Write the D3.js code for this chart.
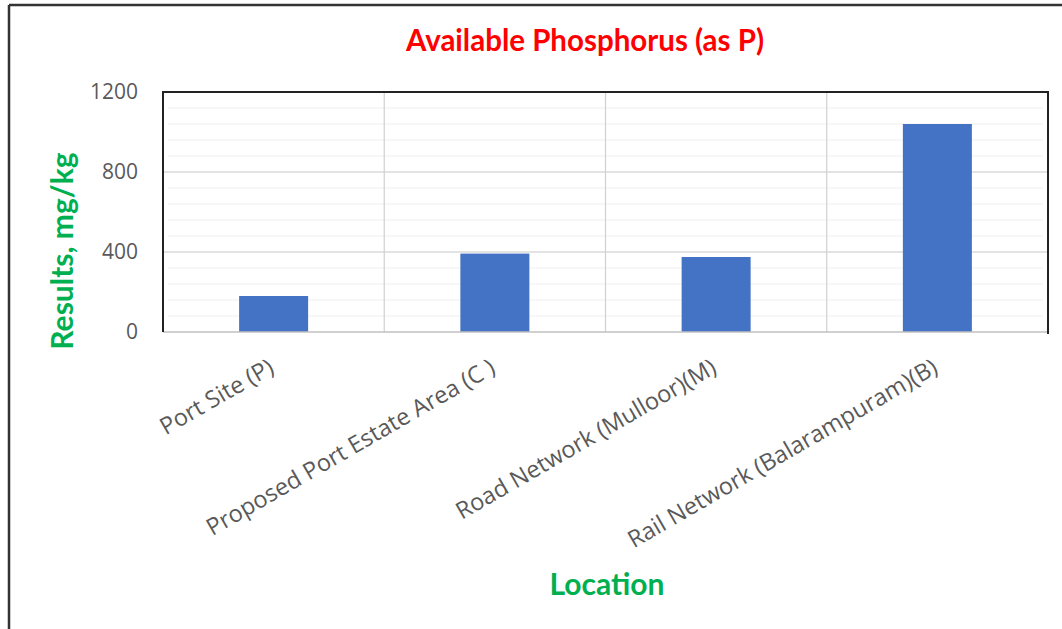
<!DOCTYPE html>
<html><head><meta charset="utf-8">
<script src="https://cdn.jsdelivr.net/npm/d3@7"></script>
<style>body{margin:0;background:#fff}svg{display:block}</style>
</head><body>
<script>
const categories = ["Port Site (P)", "Proposed Port Estate Area (C )", "Road Network (Mulloor)(M)", "Rail Network (Balarampuram)(B)"];
const values = [180, 392, 375, 1040];
const yTicks = [0, 400, 800, 1200];
const minorTicks = [80, 160, 240, 320, 480, 560, 640, 720, 880, 960, 1040, 1120];
const title = "Available Phosphorus (as P)";
const yLabel = "Results, mg/kg";
const xLabel = "Location";

const W = 1062, H = 629;
const m = {left: 163, right: 1048, top: 92, bottom: 332};
const svg = d3.select("body").append("svg").attr("width", W).attr("height", H);
const font = "Lato, 'Open Sans', sans-serif";
const font2 = "'Open Sans', sans-serif";

// outer frame
svg.append("line").attr("x1", 9).attr("x2", W).attr("y1", 5).attr("y2", 5).attr("stroke", "#333").attr("stroke-width", 2.5);
svg.append("line").attr("x1", 9).attr("x2", 9).attr("y1", 5).attr("y2", H).attr("stroke", "#333").attr("stroke-width", 2.5);

const x = d3.scaleBand().domain(categories).range([m.left, m.right]).paddingInner(0).paddingOuter(0);
const y = d3.scaleLinear().domain([0, 1200]).range([m.bottom, m.top]);

// minor faint gridlines
svg.append("g").selectAll("line").data(minorTicks).join("line")
  .attr("x1", m.left + 5).attr("x2", m.right - 5)
  .attr("y1", d => y(d)).attr("y2", d => y(d))
  .attr("stroke", "#efefef").attr("stroke-width", 1);

// major gridlines
svg.append("g").selectAll("line").data(yTicks.slice(1, -1)).join("line")
  .attr("x1", m.left).attr("x2", m.right)
  .attr("y1", d => y(d)).attr("y2", d => y(d))
  .attr("stroke", "#c8c8c8").attr("stroke-width", 1.2);

// vertical separators
svg.append("g").selectAll("line").data(categories.slice(1)).join("line")
  .attr("x1", d => x(d)).attr("x2", d => x(d))
  .attr("y1", m.top).attr("y2", m.bottom)
  .attr("stroke", "#d0d0d0").attr("stroke-width", 1.2);

// bars
const bw = 69;
svg.append("g").selectAll("rect").data(values).join("rect")
  .attr("x", (d, i) => x(categories[i]) + x.bandwidth() / 2 - bw / 2)
  .attr("width", bw)
  .attr("y", d => y(d))
  .attr("height", d => y(0) - y(d))
  .attr("fill", "#4472C4");

// bottom axis line
svg.append("line").attr("x1", m.left).attr("x2", m.right).attr("y1", m.bottom).attr("y2", m.bottom)
  .attr("stroke", "#c0c0c0").attr("stroke-width", 1.5);
// plot border top/left/right
svg.append("path")
  .attr("d", `M${m.left},${m.bottom}V${m.top}H${m.right}V${m.bottom + 2}`)
  .attr("fill", "none").attr("stroke", "#222").attr("stroke-width", 2);

// y axis labels
const yAxis = d3.axisLeft(y).tickValues(yTicks).tickFormat(d3.format("d")).tickSize(0).tickPadding(25);
const gy = svg.append("g").attr("transform", `translate(${m.left},0)`).call(yAxis);
gy.select(".domain").remove();
gy.selectAll("text").attr("font-family", font2).attr("font-size", 21).attr("fill", "#595959");

// x axis labels
const xAxis = d3.axisBottom(x).tickSize(0).tickPadding(0);
const gx = svg.append("g").attr("transform", `translate(0,${m.bottom})`).call(xAxis);
gx.select(".domain").remove();
gx.selectAll("text")
  .attr("font-family", font2).attr("font-size", 23.5).attr("fill", "#595959")
  .attr("text-anchor", "end").attr("dy", 0)
  .attr("transform", "translate(2,40) rotate(-30)");

// title
svg.append("text").attr("x", 585).attr("y", 51).attr("text-anchor", "middle")
  .attr("font-family", font).attr("font-weight", "bold").attr("font-size", 29.5).attr("fill", "#FF0000")
  .text(title);

// y label
svg.append("text").attr("transform", `translate(73,251) rotate(-90)`).attr("text-anchor", "middle")
  .attr("font-family", font).attr("font-weight", "bold").attr("font-size", 30).attr("fill", "#00B050")
  .text(yLabel);

// x label
svg.append("text").attr("x", 607).attr("y", 595).attr("text-anchor", "middle")
  .attr("font-family", font).attr("font-weight", "bold").attr("font-size", 30).attr("fill", "#00B050")
  .text(xLabel);
</script>
</body></html>
